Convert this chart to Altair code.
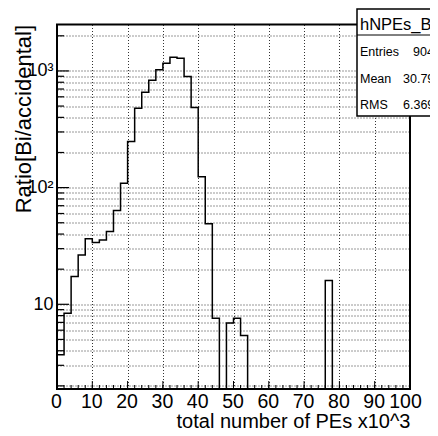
import altair as alt
import pandas as pd

# ---------------- data ----------------
bin_lo = list(range(0, 100, 2))          # bin lower edges (x10^3 PEs), width 2
counts = [3.7, 8.4, 17.3, 26.5, 36.5, 33.8, 35.6, 42, 63.6, 109,
          248, 479, 656, 832, 1026, 1164, 1310, 1284, 894, 486,
          124, 48.9, 7.6, 0, 6.9, 7.6, 5.4,
          0, 0, 0, 0, 0, 0, 0, 0, 0, 0, 0,
          16,
          0, 0, 0, 0, 0, 0, 0, 0, 0, 0, 0]

x_label_vals = [0, 10, 20, 30, 40, 50, 60, 70, 80, 90, 100]
x_minor_vals = list(range(0, 101, 2))
y_label_vals = [10, 100, 1000]
y_label_txt = ["10", "10\u00b2", "10\u00b3"]
y_grid_vals = [2, 3, 4, 5, 6, 7, 8, 9,
               20, 30, 40, 50, 60, 70, 80, 90,
               200, 300, 400, 500, 600, 700, 800, 900,
               10, 100, 1000, 2000]

stats_title = "hNPEs_Bi"
stats_keys = ["Entries", "Mean", "RMS"]
stats_vals = ["9046", "30.79", "6.369"]

# ---------------- layout ----------------
W, H = 353, 364.5
FONT = "Liberation Sans"
FLOOR = 1.0   # empty bins drawn below the axis minimum (clipped)

xs = alt.Scale(domain=[0, 100], nice=False, zero=False)
ys = alt.Scale(type="log", domain=[1.88, 2500], nice=False)

edges = bin_lo + [100]
yvals = [c if c > 0 else FLOOR for c in counts] + [counts[-1] if counts[-1] > 0 else FLOOR]
hist_df = pd.DataFrame({"x": edges, "y": yvals})

lab_expr = " : ".join(
    f"datum.value == {v} ? '{t}'" for v, t in zip(y_label_vals, y_label_txt)
) + " : ''"

x_axis = alt.Axis(
    values=x_label_vals, grid=True, gridDash=[1, 2], gridColor="#333", gridWidth=1,
    domain=False, ticks=False, tickSize=0, labelOverlap=False, labelFlush=False,
    labelFont=FONT, labelFontSize=19.5, labelPadding=3.5, labelColor="black",
    labelOffset={"condition": {"test": "datum.value == 100", "value": -5}, "value": -1},
    title="total number of PEs x10^3", titleFont=FONT, titleFontSize=20,
    titleFontWeight="normal", titleColor="black",
    titleX=W, titleY=38.5, titleAlign="right", titleBaseline="alphabetic",
)
y_axis = alt.Axis(
    values=y_grid_vals, grid=True, gridDash=[1, 2], gridColor="#333", gridWidth=1,
    domain=False, ticks=False, tickSize=0, labelOverlap=False, labelFlush=False,
    labelExpr=lab_expr, labelFont=FONT, labelFontSize=18, labelPadding=4,
    labelColor="black", labelBaseline="middle",
    title="Ratio[Bi/accidental]", titleFont=FONT, titleFontSize=22,
    titleFontWeight="normal", titleColor="black",
    titleAngle=270, titleX=-27, titleY=0, titleAlign="right", titleBaseline="alphabetic",
)

hist = alt.Chart(hist_df).mark_line(
    interpolate="step-after", color="black", strokeWidth=1.5, clip=True
).encode(
    x=alt.X("x:Q", scale=xs, axis=x_axis),
    y=alt.Y("y:Q", scale=ys, axis=y_axis),
)

# inward tick marks (same axis objects so the merged axis is unchanged)
xt_major = alt.Chart(pd.DataFrame({"v": x_label_vals})).mark_rule(color="black", strokeWidth=1).encode(
    x=alt.X("v:Q", scale=xs, axis=x_axis), y=alt.value(H), y2=alt.value(H - 8))
xt_minor = alt.Chart(pd.DataFrame({"v": x_minor_vals})).mark_rule(color="black", strokeWidth=1).encode(
    x=alt.X("v:Q", scale=xs, axis=x_axis), y=alt.value(H), y2=alt.value(H - 4))
yt_major = alt.Chart(pd.DataFrame({"v": y_label_vals})).mark_rule(color="black", strokeWidth=1.2).encode(
    y=alt.Y("v:Q", scale=ys, axis=y_axis), x=alt.value(0), x2=alt.value(12))
yt_minor = alt.Chart(pd.DataFrame({"v": [v for v in y_grid_vals if v not in y_label_vals]})).mark_rule(
    color="black", strokeWidth=1.2).encode(
    y=alt.Y("v:Q", scale=ys, axis=y_axis), x=alt.value(0), x2=alt.value(7))

one = pd.DataFrame({"k": [0]})
frame = alt.Chart(one).mark_rect(fillOpacity=0, stroke="black", strokeWidth=2).encode(
    x=alt.value(0), x2=alt.value(W), y=alt.value(0), y2=alt.value(H))

# statistics box (top-right, runs past the edge)
box = alt.Chart(one).mark_rect(fill="white", stroke="black", strokeWidth=1.5).encode(
    x=alt.value(300), x2=alt.value(420), y=alt.value(-15.5), y2=alt.value(91.5))
box_sep = alt.Chart(one).mark_rule(color="black", strokeWidth=1).encode(
    x=alt.value(300), x2=alt.value(420), y=alt.value(10.5))
box_title = alt.Chart(pd.DataFrame({"t": [stats_title]})).mark_text(
    align="left", baseline="alphabetic", font=FONT, fontSize=16.5, color="black").encode(
    text="t:N", x=alt.value(303), y=alt.value(5.5))

row_y = [31.5, 58.5, 84.5]
val_x = [356, 346, 346]
stat_layers = []
for k, v, ry, vx in zip(stats_keys, stats_vals, row_y, val_x):
    df = pd.DataFrame({"k": [k], "v": [v]})
    stat_layers.append(alt.Chart(df).mark_text(
        align="left", baseline="alphabetic", font=FONT, fontSize=12.5, color="black").encode(
        text="k:N", x=alt.value(303), y=alt.value(ry)))
    stat_layers.append(alt.Chart(df).mark_text(
        align="left", baseline="alphabetic", font=FONT, fontSize=12.5, color="black").encode(
        text="v:N", x=alt.value(vx), y=alt.value(ry)))

chart = alt.layer(
    hist, xt_major, xt_minor, yt_major, yt_minor, frame, box, box_sep, box_title, *stat_layers
).properties(
    width=W, height=H,
    padding={"left": 49, "top": 16.5, "right": 20, "bottom": 39},
    autosize=alt.AutoSizeParams(type="none"),
    background="white",
).configure_view(stroke=None)

chart.save("out.html", embed_options={"renderer": "svg", "actions": False})
